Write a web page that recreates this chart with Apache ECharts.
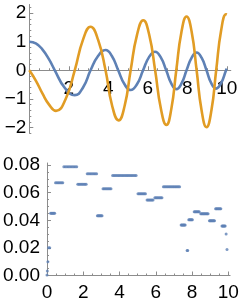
<!DOCTYPE html>
<html><head><meta charset="utf-8">
<script src="https://cdn.jsdelivr.net/npm/echarts@6/dist/echarts.min.js"></script>
<style>html,body{margin:0;padding:0;background:#fff}#c{width:242px;height:307px}</style>
</head><body><div id="c"></div>
<script>
// ---- top panel: two curves ----
const blueT = [0, 0.33, 0.65, 1.0, 1.29, 1.80, 2.30, 2.72, 3.10, 3.48, 3.86, 4.18, 4.50, 4.82, 5.13, 5.45, 5.76, 6.06, 6.37, 6.65, 6.93, 7.19, 7.44, 7.70, 7.96, 8.22, 8.47, 8.72, 8.97, 9.21, 9.46, 9.71, 9.96, 10];
const blueY = [1.00, 0.94, 0.74, 0.38, 0, -0.62, -0.87, -0.60, 0, 0.50, 0.71, 0.50, 0, -0.49, -0.69, -0.49, 0, 0.46, 0.65, 0.46, 0, -0.47, -0.66, -0.47, 0, 0.44, 0.62, 0.44, 0, -0.45, -0.64, -0.45, 0, 0.05];
const orangeT = [0, 0.33, 0.67, 1.0, 1.35, 1.83, 2.30, 2.72, 3.10, 3.48, 3.86, 4.19, 4.52, 4.83, 5.13, 5.45, 5.77, 6.07, 6.37, 6.66, 6.94, 7.19, 7.44, 7.70, 7.96, 8.22, 8.47, 8.72, 8.97, 9.22, 9.46, 9.71, 9.96, 10];
const orangeY = [0, -0.36, -0.82, -1.20, -1.42, -1.02, 0, 1.07, 1.52, 1.07, 0, -1.23, -1.75, -1.23, 0, 1.23, 1.75, 1.24, 0, -1.34, -1.91, -1.35, 0, 1.33, 1.88, 1.34, 0, -1.40, -1.99, -1.40, 0, 1.39, 1.96, 1.95];

// ---- bottom panel: step sizes (one size per run, explicit times for each dot) ----
const stepSizes = [0.0003, 0.0033, 0.0100, 0.0201, 0.0451, 0.0672, 0.0788, 0.0661, 0.0738, 0.0433, 0.0629, 0.0724, 0.0593, 0.0547, 0.0564, 0.0643, 0.0366, 0.0182, 0.0404, 0.0462, 0.0448, 0.0397, 0.0484, 0.0359, 0.0301, 0.0189];
const stepTimes = [
  [0.0],
  [0.02],
  [0.05],
  [0.09, 0.15],
  [0.20, 0.245, 0.29, 0.335, 0.38, 0.425],
  [0.47, 0.537, 0.604, 0.671, 0.738, 0.805, 0.872],
  [0.93, 1.009, 1.088, 1.167, 1.246, 1.325, 1.404, 1.483, 1.562, 1.641],
  [1.70, 1.766, 1.832, 1.898, 1.964, 2.030, 2.096, 2.162],
  [2.22, 2.294, 2.368, 2.442, 2.516, 2.590, 2.664, 2.738],
  [2.78, 2.823, 2.866, 2.909, 2.952, 2.995, 3.038],
  [3.09, 3.153, 3.216, 3.279, 3.342, 3.405, 3.468, 3.531],
  [3.62, 3.692, 3.764, 3.836, 3.908, 3.980, 4.052, 4.124, 4.196, 4.268, 4.340, 4.412, 4.484, 4.556, 4.628, 4.700, 4.772, 4.844, 4.916],
  [5.02, 5.079, 5.138, 5.197, 5.256, 5.315, 5.374, 5.433],
  [5.52, 5.575, 5.630, 5.685, 5.740, 5.795, 5.850],
  [5.95, 6.006, 6.062, 6.118, 6.174, 6.230, 6.286, 6.342],
  [6.42, 6.484, 6.548, 6.612, 6.676, 6.740, 6.804, 6.868, 6.932, 6.996, 7.060, 7.124, 7.188, 7.252, 7.316],
  [7.40, 7.437, 7.474, 7.511, 7.548, 7.585, 7.622],
  [7.73, 7.76],
  [7.82, 7.86, 7.90, 7.94, 7.98, 8.02],
  [8.12, 8.166, 8.212, 8.258, 8.304, 8.350, 8.396],
  [8.48, 8.525, 8.570, 8.615, 8.660, 8.705, 8.750, 8.795, 8.840, 8.885],
  [8.96, 9.00, 9.04, 9.08, 9.12, 9.16, 9.20, 9.24],
  [9.30, 9.348, 9.396, 9.444, 9.492, 9.540, 9.588],
  [9.65, 9.686, 9.722, 9.758, 9.794, 9.830],
  [9.88],
  [9.93]
];

// ---- ticks ----
const topXLabels = [2, 4, 6, 8, 10];
const topXMinor = [0.5, 1, 1.5, 2.5, 3, 3.5, 4.5, 5, 5.5, 6.5, 7, 7.5, 8.5, 9, 9.5];
const topYLabels = [-2, -1, 0, 1, 2];
const topYMinor = [-2.2, -1.8, -1.6, -1.4, -1.2, -0.8, -0.6, -0.4, -0.2, 0.2, 0.4, 0.6, 0.8, 1.2, 1.4, 1.6, 1.8, 2.2];
const botXLabels = [0, 2, 4, 6, 8, 10];
const botXMinor = [0.5, 1, 1.5, 2.5, 3, 3.5, 4.5, 5, 5.5, 6.5, 7, 7.5, 8.5, 9, 9.5];
const botYLabels = [0, 0.02, 0.04, 0.06, 0.08];
const botYMinor = [0.005, 0.01, 0.015, 0.025, 0.03, 0.035, 0.045, 0.05, 0.055, 0.065, 0.07, 0.075];

const AX = '#8c8c8c';
const FONT = {fontFamily: 'Liberation Sans, Arial, sans-serif', fontSize: 19, color: '#000'};
const minus = v => (v < 0 ? '\u2212' + Math.abs(v) : String(v));

function mainAxis(grid, min, max, labels, margin, fmt, extra) {
  return Object.assign({
    type: 'value', gridIndex: grid, min: min, max: max,
    axisLine: {show: true, onZero: false, lineStyle: {color: AX, width: 1}},
    axisTick: {show: true, inside: true, length: 4, customValues: labels, lineStyle: {color: AX}},
    axisLabel: Object.assign({show: true, margin: margin, customValues: labels, formatter: fmt}, FONT),
    splitLine: {show: false}, minorTick: {show: false}
  }, extra || {});
}
function minorAxis(grid, min, max, ticks, extra) {
  return Object.assign({
    type: 'value', gridIndex: grid, min: min, max: max,
    axisLine: {show: false, onZero: false},
    axisTick: {show: true, inside: true, length: 2, customValues: ticks, lineStyle: {color: AX}},
    axisLabel: {show: false},
    splitLine: {show: false}
  }, extra || {});
}
function hiddenAxis(grid, min, max) {
  return {type: 'value', gridIndex: grid, min: min, max: max, show: false,
          axisLine: {show: false, onZero: false}, axisTick: {show: false},
          axisLabel: {show: false}, splitLine: {show: false}};
}

const scatterData = [];
stepTimes.forEach((ts, i) => ts.forEach(t => scatterData.push([t, stepSizes[i]])));

const chart = echarts.init(document.getElementById('c'), null, {renderer: 'canvas'});
chart.setOption({
  animation: false,
  grid: [
    {left: 29.3, top: 4.5, width: 201.5, height: 128.7},   // top plot (data)
    {left: 44.3, top: 163, width: 185.8, height: 112.5},   // bottom plot
    {left: 29.3, top: 4.5, width: 201.5, height: 65.78}    // top plot x-axis along y = 0
  ],
  xAxis: [
    hiddenAxis(0, 0, 10.2),
    mainAxis(2, 0, 10.2, topXLabels, 9, v => String(v), {position: 'bottom'}),
    minorAxis(2, 0, 10.2, topXMinor, {position: 'bottom'}),
    mainAxis(1, 0, 10.1, botXLabels, 8, v => String(v), {position: 'bottom'}),
    minorAxis(1, 0, 10.1, botXMinor, {position: 'bottom'})
  ],
  yAxis: [
    mainAxis(0, -2.2, 2.3, topYLabels, 3, minus, {position: 'left'}),
    minorAxis(0, -2.2, 2.3, topYMinor, {position: 'left'}),
    mainAxis(1, 0, 0.0815, botYLabels, 7, v => v.toFixed(2), {position: 'left'}),
    minorAxis(1, 0, 0.0815, botYMinor, {position: 'left'}),
    hiddenAxis(2, 0, 1)
  ],
  series: [
    {type: 'line', xAxisIndex: 0, yAxisIndex: 0, smooth: true, symbol: 'none',
     lineStyle: {color: '#5E81B5', width: 2.6}, data: blueT.map((t, i) => [t, blueY[i]])},
    {type: 'line', xAxisIndex: 0, yAxisIndex: 0, smooth: true, symbol: 'none',
     lineStyle: {color: '#E19C24', width: 2.6}, data: orangeT.map((t, i) => [t, orangeY[i]])},
    {type: 'scatter', xAxisIndex: 3, yAxisIndex: 2, symbol: 'circle', symbolSize: 3,
     itemStyle: {color: '#5E81B5'}, data: scatterData}
  ]
});
</script></body></html>
